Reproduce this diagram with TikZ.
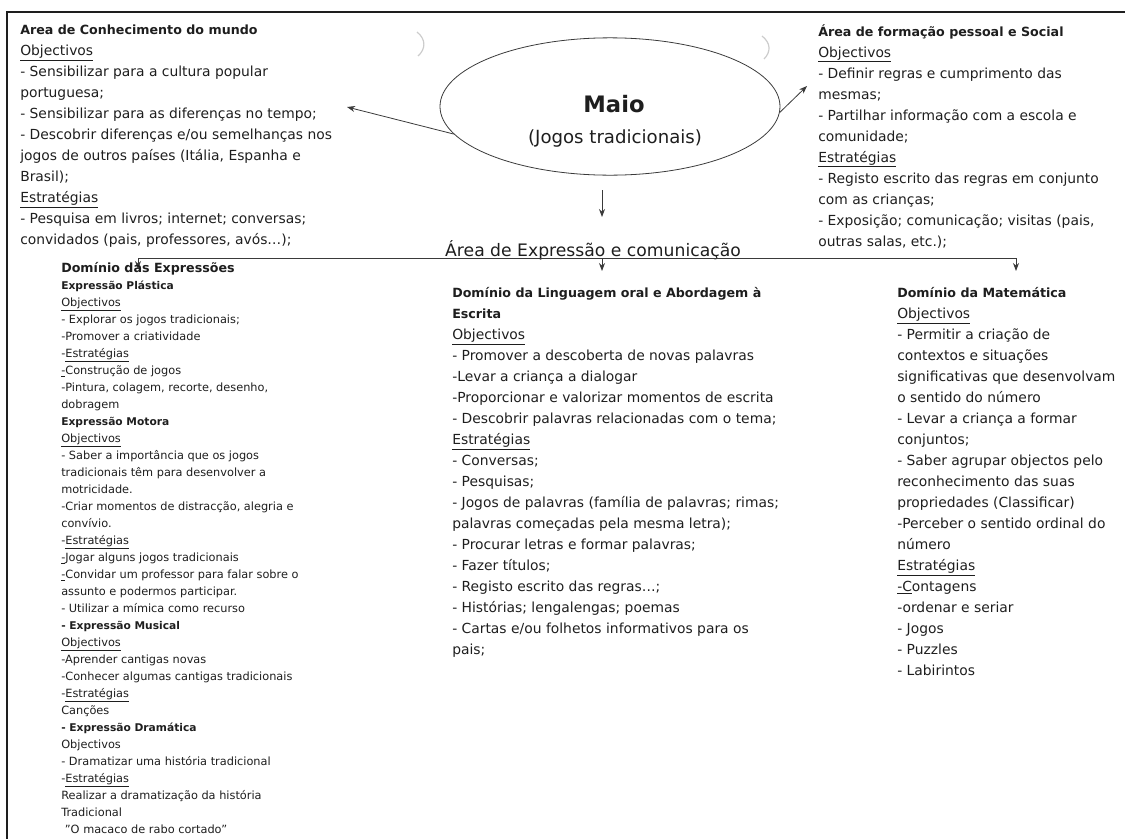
\documentclass[tikz,border=0pt]{standalone}
\usepackage{fontspec}
\setmainfont{DejaVu Sans}
\usetikzlibrary{arrows.meta,shapes.geometric}
\definecolor{tinta}{HTML}{1E1E1E}
\definecolor{traco}{HTML}{3A3A3A}
\newcommand{\titulo}[1]{{\fontsize{9.5}{15.75}\selectfont\bfseries #1}}
\newcommand{\subtitulo}[1]{{\fontsize{8}{12.75}\selectfont\bfseries #1}}
\newcommand{\sublinha}[1]{\underline{#1}}

\begin{document}
\begin{tikzpicture}[x=0.75pt,y=-0.75pt]
    \tikzstyle{bloco} = [inner sep=0pt, align=left, anchor=north west, text=tinta, font=\fontsize{10.4}{15.75}\selectfont]
    \tikzstyle{coluna} = [bloco, font=\fontsize{8.5}{12.75}\selectfont]
    \tikzstyle{seta} = [draw=traco, line width=0.6pt, -{Stealth[length=6pt,width=4.5pt]}]
    \tikzstyle{linha} = [draw=traco, line width=0.6pt]

    \useasboundingbox (0,0) rectangle (1125,839);
    \draw[line width=1.6pt, tinta] (7,12) rectangle (1140,860);

    % centro
    \node[draw=traco, line width=0.6pt, ellipse, minimum width=255pt, minimum height=103pt, inner sep=0pt] (elipse) at (610,106.5) {};
    \node[anchor=base, text=tinta, font=\fontsize{17}{20}\selectfont\bfseries] (mes) at (614,112) {Maio};
    \node[anchor=base, text=tinta, font=\fontsize{13.6}{16}\selectfont] (tema) at (615,143) {(Jogos tradicionais)};
    \draw[gray!40, line width=0.9pt] (417,32) .. controls (426,39) and (426,49) .. (418,56);
    \draw[gray!40, line width=0.9pt] (762,36) .. controls (771,43) and (771,52) .. (764,59);

    % areas de cima
    \node[bloco] (mundo) at (20,25) {\titulo{Area de Conhecimento do mundo}\\
        \sublinha{Objectivos}\\
        - Sensibilizar para a cultura popular\\
        portuguesa;\\
        - Sensibilizar para as diferenças no tempo;\\
        - Descobrir diferenças e/ou semelhanças nos\\
        jogos de outros países (Itália, Espanha e\\
        Brasil);\\
        \sublinha{Estratégias}\\
        - Pesquisa em livros; internet; conversas;\\
        convidados (pais, professores, avós…);};
    \node[bloco] (social) at (818,24) {\titulo{Área de formação pessoal e Social}\\
        \sublinha{Objectivos}\\
        - Definir regras e cumprimento das\\
        mesmas;\\
        - Partilhar informação com a escola e\\
        comunidade;\\
        \sublinha{Estratégias}\\
        - Registo escrito das regras em conjunto\\
        com as crianças;\\
        - Exposição; comunicação; visitas (pais,\\
        outras salas, etc.);};

    \coordinate (pontaMundo) at (347,107);
    \coordinate (pontaSocial) at (807,86);
    \draw[seta] (elipse.190) -- (pontaMundo);
    \draw[seta] (elipse.358) -- (pontaSocial);

    % expressao e comunicacao
    \node[anchor=base, text=tinta, font=\fontsize{12.9}{15}\selectfont] (expressao) at (593,256) {Área de Expressão e comunicação};
    \coordinate (desceA) at (602,190);
    \coordinate (desceB) at (602,217);
    \draw[seta] (desceA) -- (desceB);

    \coordinate (ramoE) at (138,258);
    \coordinate (ramoM) at (602,258);
    \coordinate (ramoD) at (1016,258);
    \coordinate (pontaE) at (138,269);
    \coordinate (pontaM) at (602,271);
    \coordinate (pontaD) at (1016,271);
    \draw[linha] (ramoE) -- (ramoD);
    \draw[seta] (ramoE) -- (pontaE);
    \draw[seta] (ramoM) -- (pontaM);
    \draw[seta] (ramoD) -- (pontaD);

    % dominios
    \node[coluna] (expressoes) at (61,262) {{\fontsize{9.5}{12.75}\selectfont\bfseries Domínio das Expressões}\\
        \subtitulo{Expressão Plástica}\\
        \sublinha{Objectivos}\\
        - Explorar os jogos tradicionais;\\
        -Promover a criatividade\\
        -\sublinha{Estratégias}\\
        \sublinha{-}Construção de jogos\\
        -Pintura, colagem, recorte, desenho,\\
        dobragem\\
        \subtitulo{Expressão Motora}\\
        \sublinha{Objectivos}\\
        - Saber a importância que os jogos\\
        tradicionais têm para desenvolver a\\
        motricidade.\\
        -Criar momentos de distracção, alegria e\\
        convívio.\\
        -\sublinha{Estratégias}\\
        \sublinha{-}Jogar alguns jogos tradicionais\\
        \sublinha{-}Convidar um professor para falar sobre o\\
        assunto e podermos participar.\\
        - Utilizar a mímica como recurso\\
        \subtitulo{- Expressão Musical}\\
        \sublinha{Objectivos}\\
        -Aprender cantigas novas\\
        -Conhecer algumas cantigas tradicionais\\
        -\sublinha{Estratégias}\\
        Canções\\
        \subtitulo{- Expressão Dramática}\\
        Objectivos\\
        - Dramatizar uma história tradicional\\
        -\sublinha{Estratégias}\\
        Realizar a dramatização da história\\
        Tradicional\\
        \ "O macaco de rabo cortado"};

    \node[bloco] (linguagem) at (452,287) {\titulo{Domínio da Linguagem oral e Abordagem à}\\
        \titulo{Escrita}\\
        \sublinha{Objectivos}\\
        - Promover a descoberta de novas palavras\\
        -Levar a criança a dialogar\\
        -Proporcionar e valorizar momentos de escrita\\
        - Descobrir palavras relacionadas com o tema;\\
        \sublinha{Estratégias}\\
        - Conversas;\\
        - Pesquisas;\\
        - Jogos de palavras (família de palavras; rimas;\\
        palavras começadas pela mesma letra);\\
        - Procurar letras e formar palavras;\\
        - Fazer títulos;\\
        - Registo escrito das regras…;\\
        - Histórias; lengalengas; poemas\\
        - Cartas e/ou folhetos informativos para os\\
        pais;};

    \node[bloco] (matematica) at (897,287) {\titulo{Domínio da Matemática}\\
        \sublinha{Objectivos}\\
        - Permitir a criação de\\
        contextos e situações\\
        significativas que desenvolvam\\
        o sentido do número\\
        - Levar a criança a formar\\
        conjuntos;\\
        - Saber agrupar objectos pelo\\
        reconhecimento das suas\\
        propriedades (Classificar)\\
        -Perceber o sentido ordinal do\\
        número\\
        \sublinha{Estratégias}\\
        \sublinha{-C}ontagens\\
        -ordenar e seriar\\
        - Jogos\\
        - Puzzles\\
        - Labirintos};
\end{tikzpicture}
\end{document}
